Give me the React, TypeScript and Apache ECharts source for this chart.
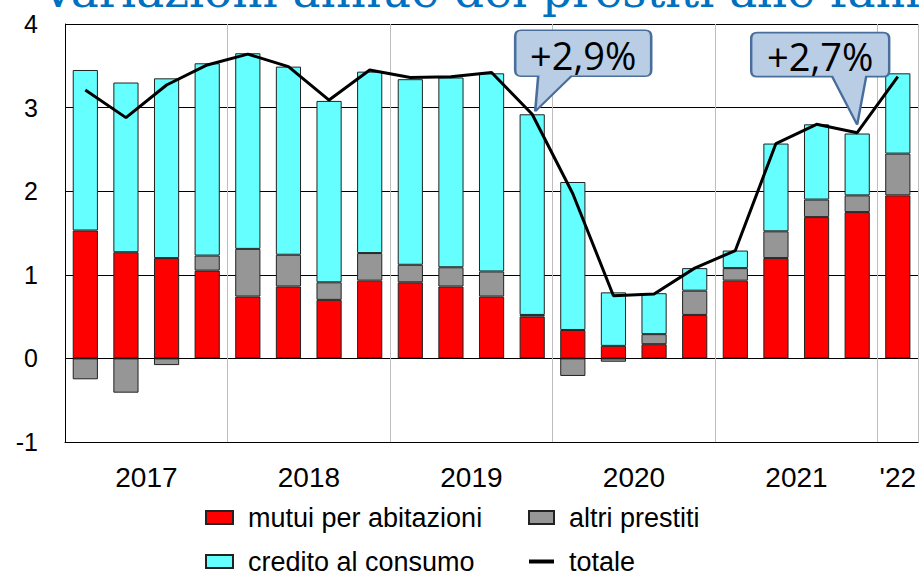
import React, { useEffect, useRef } from 'react';
import * as echarts from 'echarts';

// ---- data ----
const categories = [
  '2017 T1', '2017 T2', '2017 T3', '2017 T4',
  '2018 T1', '2018 T2', '2018 T3', '2018 T4',
  '2019 T1', '2019 T2', '2019 T3', '2019 T4',
  '2020 T1', '2020 T2', '2020 T3', '2020 T4',
  '2021 T1', '2021 T2', '2021 T3', '2021 T4',
  '2022 T1',
];
const yearLabels: Record<number, string> = { 1: '2017', 5: '2018', 9: '2019', 13: '2020', 17: '2021', 20: "'22" };
const mutui = [1.53, 1.27, 1.20, 1.05, 0.74, 0.86, 0.70, 0.93, 0.91, 0.86, 0.74, 0.50, 0.34, 0.15, 0.17, 0.52, 0.93, 1.20, 1.69, 1.75, 1.95];
const altri = [-0.25, -0.41, -0.08, 0.18, 0.57, 0.38, 0.21, 0.33, 0.21, 0.23, 0.30, 0.02, -0.21, -0.04, 0.12, 0.29, 0.15, 0.32, 0.21, 0.20, 0.50];
const credito = [1.92, 2.03, 2.15, 2.30, 2.34, 2.25, 2.17, 2.17, 2.22, 2.27, 2.37, 2.40, 1.77, 0.64, 0.49, 0.27, 0.21, 1.05, 0.90, 0.74, 0.96];
const totale = [3.21, 2.88, 3.27, 3.51, 3.64, 3.49, 3.09, 3.45, 3.36, 3.37, 3.42, 2.92, 1.97, 0.75, 0.77, 1.08, 1.29, 2.57, 2.80, 2.70, 3.37];
const calloutIndex = [11, 19];
const calloutText = ['+2,9%', '+2,7%'];
const titleText = 'Variazioni annue dei prestiti alle famiglie';

// ---- styles ----
const SANS = 'Liberation Sans, Arial, Helvetica, sans-serif';
const calloutShapes = [
  {
    path: 'path://M6,0 L130,0 Q136,0 136,6 L136,40 Q136,46 130,46 L56,46 L20,81 L23,46 L6,46 Q0,46 0,40 L0,6 Q0,0 6,0 Z',
    size: [136, 81],
    offset: [51, -43.5],
    labelOffset: [0, -16],
  },
  {
    path: 'path://M6,0 L132,0 Q138,0 138,6 L138,38 Q138,44 132,44 L115,44 L106,92 L81,44 L6,44 Q0,44 0,38 L0,6 Q0,0 6,0 Z',
    size: [138, 92],
    offset: [-37, -54],
    labelOffset: [0, -23],
  },
];

export default function App() {
  const ref = useRef<HTMLDivElement>(null);
  useEffect(() => {
    if (!ref.current) return;
    const chart = echarts.init(ref.current, null, { renderer: 'svg' });
    const barBorder = { borderColor: '#222', borderWidth: 1 };
    const legendText = { fontSize: 27, lineHeight: 26, fontFamily: SANS, color: '#000', padding: [0, 0, 0, 10] };
    const legendBase = {
      orient: 'vertical',
      top: 504,
      height: 120,
      padding: 0,
      itemGap: 17,
      itemHeight: 13,
      textStyle: legendText,
    };
    chart.setOption({
      animation: false,
      backgroundColor: '#ffffff',
      title: {
        text: titleText,
        left: 36,
        top: -38,
        textStyle: { fontFamily: 'DejaVu Serif, serif', fontSize: 47, fontWeight: 'normal', color: '#0070C0' },
      },
      grid: { left: 65, right: -2, top: 24, bottom: 132, containLabel: false },
      legend: [
        {
          ...legendBase,
          left: 205,
          itemWidth: 27,
          data: [
            { name: 'mutui per abitazioni', icon: 'rect' },
            { name: 'credito al consumo', icon: 'rect' },
          ],
        },
        {
          ...legendBase,
          left: 528,
          itemWidth: 25,
          data: [
            { name: 'altri prestiti', icon: 'rect' },
            { name: 'totale', icon: 'path://M0,0 L25,0 L25,4 L0,4 Z' },
          ],
        },
      ],
      xAxis: {
        type: 'category',
        data: categories,
        boundaryGap: true,
        axisLine: { show: true, onZero: false, lineStyle: { color: '#000', width: 1 } },
        axisTick: { show: false },
        axisLabel: {
          interval: (i: number) => yearLabels[i] !== undefined,
          formatter: (_v: string, i: number) => (i === 20 ? yearLabels[i] : `{s|${yearLabels[i]}}`),
          margin: 21,
          color: '#000',
          fontSize: 28,
          fontFamily: SANS,
          rich: { s: { padding: [0, 0, 0, 41], fontSize: 28, fontFamily: SANS, color: '#000' } },
        },
        splitLine: {
          show: true,
          interval: (i: number) => i % 4 === 0,
          lineStyle: { color: '#bdbdbd', width: 1 },
        },
      },
      yAxis: {
        type: 'value',
        min: -1,
        max: 4,
        interval: 1,
        axisLine: { show: true, lineStyle: { color: '#000', width: 1 } },
        axisTick: { show: false },
        axisLabel: { color: '#000', fontSize: 25, fontFamily: SANS, margin: 27 },
        splitLine: { show: true, lineStyle: { color: '#000', width: 1 } },
      },
      series: [
        {
          name: 'mutui per abitazioni',
          type: 'bar',
          stack: 'tot',
          barWidth: '62%',
          data: mutui,
          itemStyle: { color: '#FF0000', ...barBorder },
        },
        {
          name: 'altri prestiti',
          type: 'bar',
          stack: 'tot',
          barWidth: '62%',
          data: altri,
          itemStyle: { color: '#969696', ...barBorder },
        },
        {
          name: 'credito al consumo',
          type: 'bar',
          stack: 'tot',
          barWidth: '62%',
          data: credito,
          itemStyle: { color: '#66FFFF', ...barBorder },
        },
        {
          name: 'totale',
          type: 'line',
          data: totale,
          symbol: 'none',
          z: 5,
          lineStyle: { color: '#000', width: 3 },
          itemStyle: { color: '#000' },
          markPoint: {
            silent: true,
            itemStyle: { color: '#B9CDE5', borderColor: '#4A6E9C', borderWidth: 2 },
            label: { show: true, formatter: '{b}', color: '#000', fontSize: 38, fontFamily: 'Open Sans, sans-serif' },
            data: calloutIndex.map((idx, k) => ({
              name: calloutText[k],
              coord: [categories[idx], totale[idx]],
              symbol: calloutShapes[k].path,
              symbolSize: calloutShapes[k].size,
              symbolOffset: calloutShapes[k].offset,
              label: { offset: calloutShapes[k].labelOffset },
            })),
          },
        },
      ],
    });
    return () => chart.dispose();
  }, []);
  return <div ref={ref} style={{ position: 'absolute', left: 0, top: 0, width: 919, height: 574 }} />;
}
